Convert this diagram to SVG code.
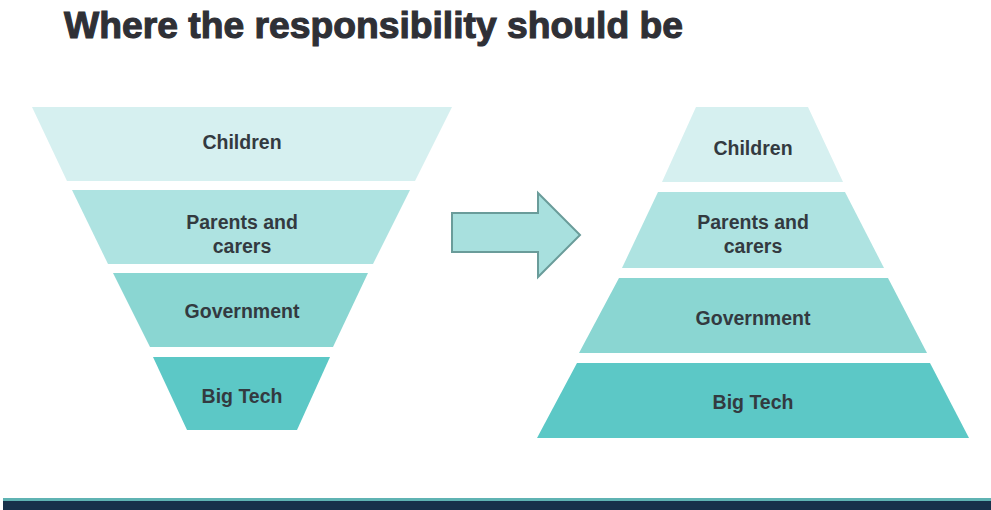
<svg xmlns="http://www.w3.org/2000/svg" width="991" height="510" viewBox="0 0 991 510">
  <style>
    .title { font-family: "Liberation Sans", Arial, sans-serif; font-weight: bold; font-size: 37px; fill: #2f3036; stroke: #2f3036; stroke-width: 1.1px; }
    .lbl { font-family: "Liberation Sans", Arial, sans-serif; font-weight: bold; font-size: 19.5px; fill: #333a40; text-anchor: middle; }
    .b1 { fill: #d6f0f0; }
    .b2 { fill: #aee3e1; }
    .b3 { fill: #8ad6d2; }
    .b4 { fill: #5cc8c6; }
  </style>
  <rect width="991" height="510" fill="#ffffff"/>

  <text class="title" x="64" y="38" textLength="619" lengthAdjust="spacingAndGlyphs">Where the responsibility should be</text>

  <!-- inverted funnel -->
  <g id="funnel">
    <g id="f-children">
      <polygon class="b1" points="32,107 452,107 415,181 67,181"/>
      <text class="lbl" x="242" y="149">Children</text>
    </g>
    <g id="f-parents">
      <polygon class="b2" points="72,190 410,190 373,264 108,264"/>
      <text class="lbl" x="242" y="229">Parents and</text>
      <text class="lbl" x="242" y="253">carers</text>
    </g>
    <g id="f-government">
      <polygon class="b3" points="113,273 368,273 333,347 150,347"/>
      <text class="lbl" x="242" y="318">Government</text>
    </g>
    <g id="f-bigtech">
      <polygon class="b4" points="153,357 330,357 297,430 187,430"/>
      <text class="lbl" x="242" y="403">Big Tech</text>
    </g>
  </g>

  <!-- transition arrow -->
  <g id="connectors">
    <polygon points="452,213 538,213 538,193 580,235 538,277 538,252 452,252" fill="#a8e0de" stroke="#6a9c9a" stroke-width="2" stroke-linejoin="miter"/>
  </g>

  <!-- pyramid -->
  <g id="pyramid">
    <g id="p-children">
      <polygon class="b1" points="696,107 808,107 843,182 662,182"/>
      <text class="lbl" x="753" y="155">Children</text>
    </g>
    <g id="p-parents">
      <polygon class="b2" points="658,192 845,192 884,268 622,268"/>
      <text class="lbl" x="753" y="229">Parents and</text>
      <text class="lbl" x="753" y="253">carers</text>
    </g>
    <g id="p-government">
      <polygon class="b3" points="619,278 888,278 927,353 579,353"/>
      <text class="lbl" x="753" y="325">Government</text>
    </g>
    <g id="p-bigtech">
      <polygon class="b4" points="577,363 930,363 969,438 537,438"/>
      <text class="lbl" x="753" y="409">Big Tech</text>
    </g>
  </g>

  <!-- footer band -->
  <rect x="3" y="498" width="988" height="3" fill="#5fb3b3"/>
  <rect x="3" y="501" width="988" height="9" fill="#17304a"/>
</svg>
